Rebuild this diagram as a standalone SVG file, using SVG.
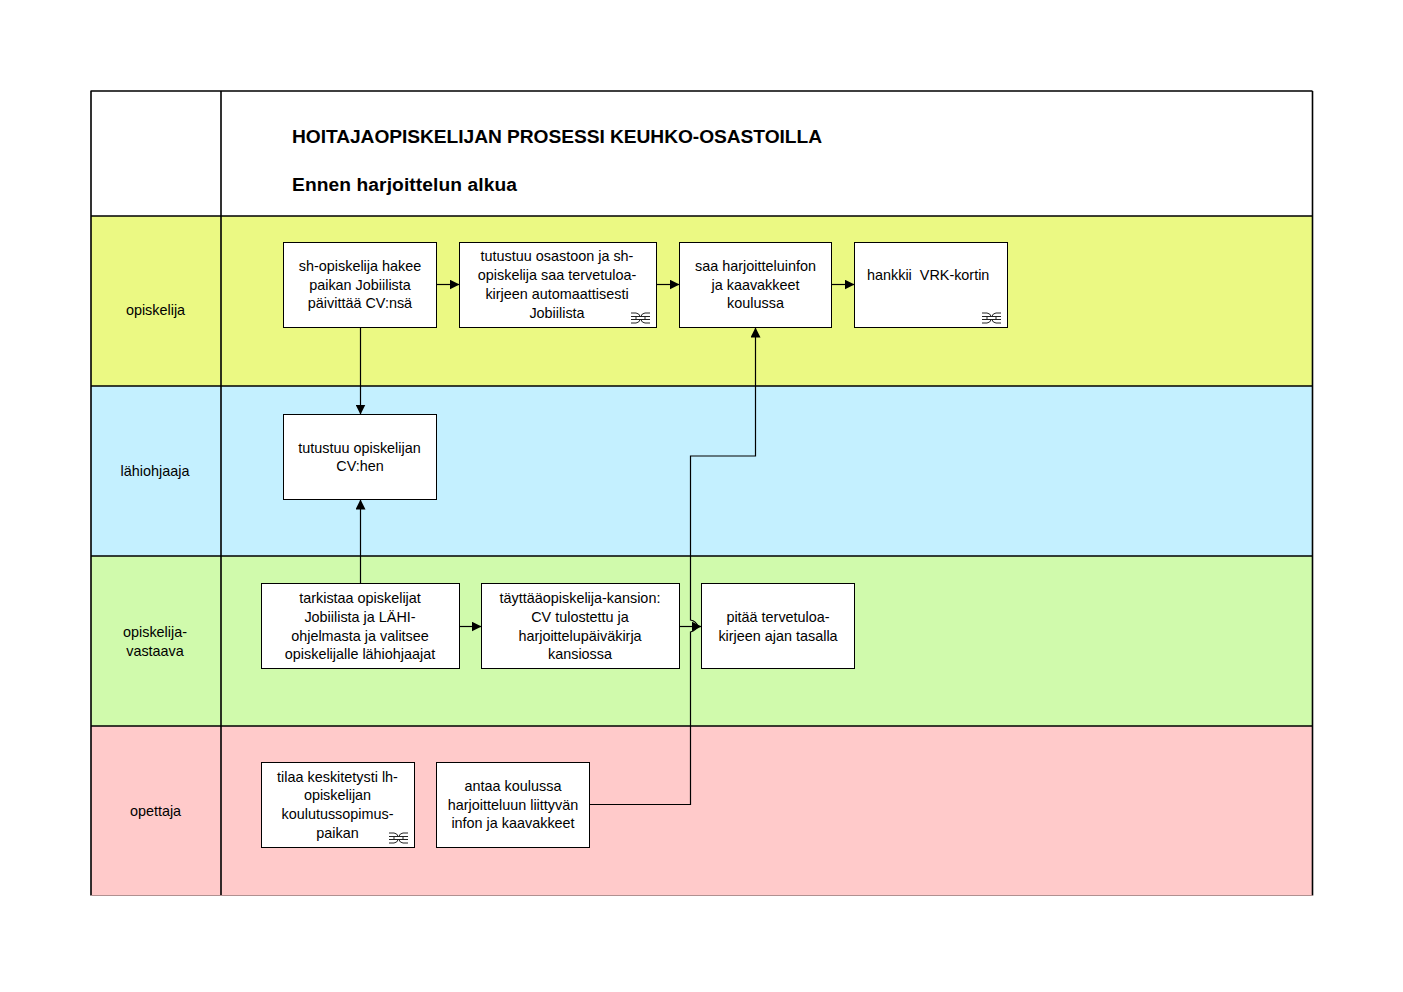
<svg xmlns="http://www.w3.org/2000/svg" width="1403" height="992" viewBox="0 0 1403 992">
<style>
text{font-family:"Liberation Sans",Arial,sans-serif;font-size:14.400px;fill:#000;text-anchor:middle}
.t{font-size:19.200px;font-weight:bold;text-anchor:start}
.b{fill:#fff;stroke:#000;stroke-width:1}
.d{fill:none;stroke:#000;stroke-width:1.6}
.c{fill:none;stroke:#000;stroke-width:1.2}
.s{fill:none;stroke:#222;stroke-width:1}
</style>
<defs>
<marker id="a" markerUnits="userSpaceOnUse" markerWidth="11" markerHeight="10" refX="10" refY="5" orient="auto"><path d="M0 0L10 5L0 10Z" fill="#000"/></marker>
<g id="sym"><path class="s" d="M0 1H5Q8 1 9.500 5Q11 1 14 1H19M0 11H5Q8 11 9.500 7Q11 11 14 11H19M0 4.500H19M0 7.500H19M5 4.500V7.500M14 4.500V7.500"/></g>
</defs>
<g id="lanes">
<rect x="91" y="91" width="1221.500" height="125" fill="#fff"/>
<rect x="91" y="216" width="1221.500" height="170" fill="#ebf983"/>
<rect x="91" y="386" width="1221.500" height="170" fill="#c4f0ff"/>
<rect x="91" y="556" width="1221.500" height="170" fill="#d0faac"/>
<rect x="91" y="726" width="1221.500" height="170" fill="#ffcaca"/>
<path class="d" d="M91 91V895.500M221 91V895.500M90.500 91H1312.500M1312.500 91V895.500M90.500 216H1312.500M90.500 386H1312.500M90.500 556H1312.500M90.500 726H1312.500"/>
<path d="M91 895.500H1312.500" stroke="#b09090" stroke-width="1" fill="none"/>
</g>
<g id="title">
<text class="t" x="292" y="143" textLength="530">HOITAJAOPISKELIJAN PROSESSI KEUHKO-OSASTOILLA</text>
<text class="t" x="292" y="190.500" textLength="225">Ennen harjoittelun alkua</text>
</g>
<g id="lane-labels">
<text x="155.500" y="315">opiskelija</text>
<text x="155" y="476">lähiohjaaja</text>
<text x="155" y="637">opiskelija-</text>
<text x="155" y="656">vastaava</text>
<text x="155.500" y="816">opettaja</text>
</g>
<g id="connectors">
<path class="c" marker-end="url(#a)" d="M436.500 284.500H459.500"/>
<path class="c" marker-end="url(#a)" d="M656.500 284.500H679.500"/>
<path class="c" marker-end="url(#a)" d="M831.500 284.500H854.500"/>
<path class="c" marker-end="url(#a)" d="M360.500 327.500V414.500"/>
<path class="c" marker-end="url(#a)" d="M360.500 583.500V499.500"/>
<path class="c" marker-end="url(#a)" d="M459.500 626.500H481.500"/>
<path class="c" marker-end="url(#a)" d="M679.500 626.500H701.500"/>
<path class="c" marker-end="url(#a)" d="M589.500 804.500H690.500V632Q696 630 698 626.500Q696 621 690.500 620V456H755.500V327.500"/>
</g>
<g id="n1"><rect class="b" x="283.500" y="242.500" width="153" height="85"/><text x="360" y="271">sh-opiskelija hakee</text><text x="360" y="290">paikan Jobiilista</text><text x="360" y="308">päivittää CV:nsä</text></g>
<g id="n2"><rect class="b" x="459.500" y="242.500" width="197" height="85"/><text x="557" y="261">tutustuu osastoon ja sh-</text><text x="557" y="280">opiskelija saa tervetuloa-</text><text x="557" y="299">kirjeen automaattisesti</text><text x="557" y="318">Jobiilista</text><use href="#sym" x="631" y="312"/></g>
<g id="n3"><rect class="b" x="679.500" y="242.500" width="152" height="85"/><text x="755.500" y="271">saa harjoitteluinfon</text><text x="755.500" y="290">ja kaavakkeet</text><text x="755.500" y="308">koulussa</text></g>
<g id="n4"><rect class="b" x="854.500" y="242.500" width="153" height="85"/><text x="867" y="280" style="text-anchor:start;white-space:pre" xml:space="preserve">hankkii  VRK-kortin</text><use href="#sym" x="982" y="312"/></g>
<g id="n5"><rect class="b" x="283.500" y="414.500" width="153" height="85"/><text x="359.500" y="453">tutustuu opiskelijan</text><text x="360" y="471">CV:hen</text></g>
<g id="n6"><rect class="b" x="261.500" y="583.500" width="198" height="85"/><text x="360" y="603">tarkistaa opiskelijat</text><text x="360" y="622">Jobiilista ja LÄHI-</text><text x="360" y="641">ohjelmasta ja valitsee</text><text x="360" y="659">opiskelijalle lähiohjaajat</text></g>
<g id="n7"><rect class="b" x="481.500" y="583.500" width="198" height="85"/><text x="580" y="603">täyttääopiskelija-kansion:</text><text x="580" y="622">CV tulostettu ja</text><text x="580" y="641">harjoittelupäiväkirja</text><text x="580" y="659">kansiossa</text></g>
<g id="n8"><rect class="b" x="701.500" y="583.500" width="153" height="85"/><text x="778" y="622">pitää tervetuloa-</text><text x="778" y="641">kirjeen ajan tasalla</text></g>
<g id="n9"><rect class="b" x="261.500" y="762.500" width="153" height="85"/><text x="337.500" y="782">tilaa keskitetysti lh-</text><text x="337.500" y="800">opiskelijan</text><text x="337.500" y="819">koulutussopimus-</text><text x="337.500" y="838">paikan</text><use href="#sym" x="389" y="832"/></g>
<g id="n10"><rect class="b" x="436.500" y="762.500" width="153" height="85"/><text x="513" y="791">antaa koulussa</text><text x="513" y="810">harjoitteluun liittyvän</text><text x="513" y="828">infon ja kaavakkeet</text></g>
</svg>
